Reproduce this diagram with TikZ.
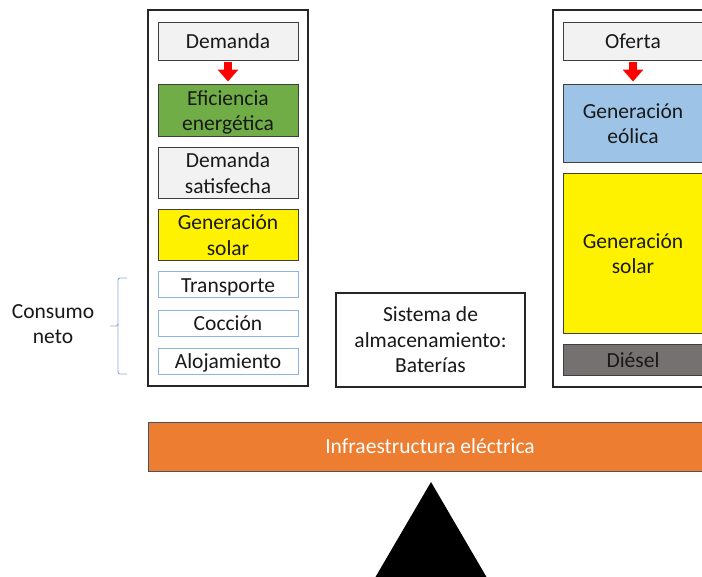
\documentclass[tikz,border=0pt]{standalone}
\usepackage{fontspec}
\setmainfont{Carlito}
\usetikzlibrary{arrows.meta,calc}
\definecolor{boxgray}{HTML}{F2F2F2}
\definecolor{effgreen}{HTML}{70AD47}
\definecolor{windblue}{HTML}{9DC3E6}
\definecolor{dieselgray}{HTML}{767171}
\definecolor{infraorange}{HTML}{ED7D31}
\definecolor{lightline}{HTML}{8FB4E3}
\definecolor{bracecol}{HTML}{8FAADC}
\definecolor{edgegray}{HTML}{3F3F3F}
\definecolor{infraedge}{HTML}{4A5068}
% centred text block, lowered by #1, with no height of its own
\newcommand\ctxt[2][2.8pt]{\raisebox{\dimexpr-0.5\height+0.5\depth-#1\relax}[0pt][0pt]{\begin{tabular}{@{}c@{}}#2\end{tabular}}}
\begin{document}
\begin{tikzpicture}[x=1pt,y=-1pt,
  every node/.style={font=\fontsize{21.5}{25.5}\selectfont, inner sep=0pt, text=black!90},
  outerbox/.style={draw=black!85, line width=1.1pt, fill=white},
  cbox/.style={draw=edgegray, line width=0.9pt, minimum width=140pt},
  lbox/.style={draw=lightline, line width=0.9pt, fill=white, minimum width=140pt, minimum height=26pt},
  redarrow/.style={draw=red, line width=8pt, -{Triangle[width=20pt,length=12pt]}}
]
\useasboundingbox (0,0) rectangle (702,577);
\clip (0,0) rectangle (702,577);
\fill[white] (0,0) rectangle (702,577);

% left column
\node[outerbox, minimum width=160pt, minimum height=376pt] (lout) at (228,198) {};
\node[cbox, fill=boxgray, minimum height=38pt] (dem) at (228,41) {\ctxt{Demanda}};
\node[cbox, fill=effgreen, minimum height=52pt] (efi) at (228,110) {\ctxt{Eficiencia\\energética}};
\node[cbox, fill=boxgray, minimum height=51pt] (sat) at (228,172.5) {\ctxt{Demanda\\satisfecha}};
\node[cbox, fill=yellow, minimum height=51pt] (sol) at (228,234.5) {\ctxt{Generación\\solar}};
\node[lbox] (tra) at (228,284.5) {\ctxt{Transporte}};
\node[lbox] (coc) at (228,323) {\ctxt{Cocción}};
\node[lbox] (alo) at (228,361) {\ctxt{Alojamiento}};
\draw[redarrow] ($(dem.south)+(0,2)$) -- ($(efi.north)+(0,-2)$);

% brace and label
\draw[bracecol, line width=0.9pt, rounded corners=2pt] (127,278) -| (118,326) -- (110,326);
\draw[bracecol, line width=0.9pt, rounded corners=2pt] (118,324) |- (127,374);
\node (cons) at (53,324) {\ctxt[1.8pt]{Consumo\\neto}};

% storage
\node[draw=black!85, line width=1.1pt, minimum width=189pt, minimum height=94pt] (bat) at (430.5,340) {\ctxt[2.3pt]{Sistema de\\almacenamiento:\\Baterías}};

% right column
\node[outerbox, minimum width=160pt, minimum height=377pt] (rout) at (633,198.5) {};
\node[cbox, fill=boxgray, minimum height=38pt] (ofe) at (633,41) {\ctxt{Oferta}};
\node[cbox, fill=windblue, minimum height=78pt] (eol) at (633,123) {\ctxt{Generación\\eólica}};
\node[cbox, fill=yellow, minimum height=160pt] (sol2) at (633,253) {\ctxt{Generación\\solar}};
\node[cbox, fill=dieselgray, minimum height=31pt] (die) at (633,359.5) {\ctxt{Diésel}};
\draw[redarrow] ($(ofe.south)+(0,2)$) -- ($(eol.north)+(0,-2)$);

% infrastructure bar
\node[draw=infraedge, line width=1pt, fill=infraorange, minimum width=564pt, minimum height=48pt, text=white] (inf) at (430,447) {\ctxt[1.8pt]{Infraestructura eléctrica}};

% fulcrum
\fill[black] (431,482) -- (372,583) -- (490,583) -- cycle;
\end{tikzpicture}
\end{document}
